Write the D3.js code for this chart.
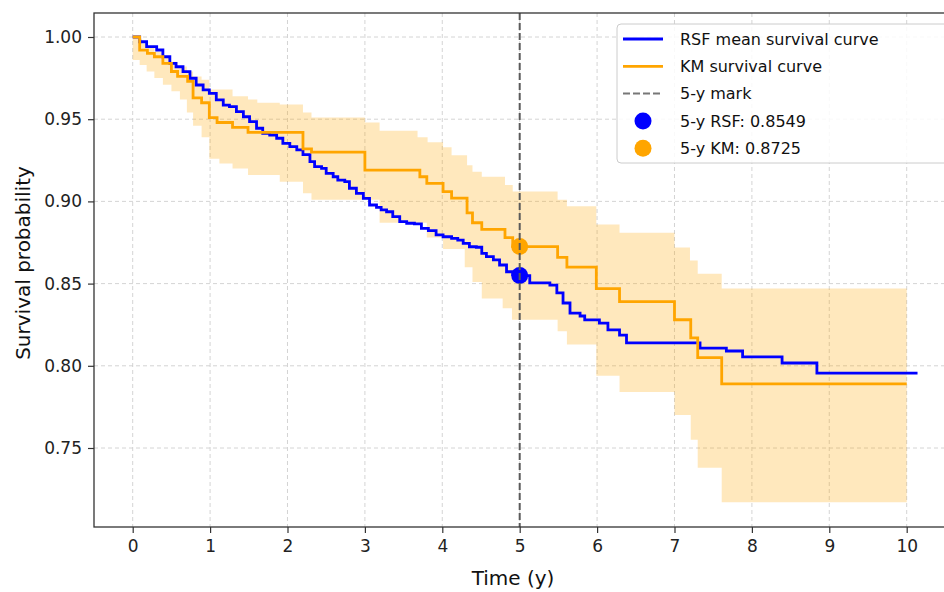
<!DOCTYPE html>
<html>
<head>
<meta charset="utf-8">
<script src="https://cdn.jsdelivr.net/npm/d3@7"></script>
<style>
  body { margin: 0; background: #fff; }
  svg { display: block; font-family: "DejaVu Sans", sans-serif; }
</style>
</head>
<body>
<svg width="944" height="592"></svg>
<script>
// RSF mean survival curve
var rsfTime = [0, 0.09, 0.18, 0.31, 0.39, 0.48, 0.56, 0.65, 0.74, 0.82, 0.91, 0.99, 1.08, 1.17, 1.25, 1.34, 1.43, 1.51, 1.60, 1.68,
  1.77, 1.86, 1.94, 2.03, 2.12, 2.20, 2.29, 2.35,
  2.44, 2.50, 2.59, 2.65, 2.74, 2.80, 2.89, 2.98, 3.06, 3.15, 3.21, 3.28, 3.36, 3.45, 3.54, 3.64, 3.73, 3.82, 3.92, 4.01,
  4.12, 4.20, 4.27, 4.35, 4.44, 4.51, 4.57, 4.66, 4.74, 4.83, 4.91, 5.00, 5.13, 5.39, 5.48, 5.56, 5.65, 5.78, 5.84, 6.03,
  6.14, 6.29, 6.38, 7.33, 7.67, 7.88, 8.39, 8.84, 10.14];
var rsfSurv = [1.000, 0.9971, 0.9941, 0.9921, 0.9880, 0.9840, 0.9819, 0.9789, 0.9749, 0.9708, 0.9678, 0.9657, 0.9617, 0.9586, 0.9576, 0.9546, 0.9515, 0.9485, 0.9445, 0.9414,
  0.9404, 0.9384, 0.9353, 0.9333, 0.9313, 0.9285, 0.9242, 0.9211,
  0.9201, 0.9171, 0.9150, 0.9130, 0.9120, 0.9080, 0.9049, 0.9019, 0.8978, 0.8964, 0.8948, 0.8937, 0.8907, 0.8877, 0.8867, 0.8863, 0.8836, 0.8822, 0.8796, 0.8785,
  0.8775, 0.8765, 0.8745, 0.8724, 0.8721, 0.8684, 0.8664, 0.8644, 0.8613, 0.8572, 0.8556, 0.8549, 0.8504, 0.8491, 0.8443, 0.8382, 0.8321, 0.8303, 0.8279, 0.8260,
  0.8218, 0.8187, 0.8139, 0.8108, 0.8090, 0.8054, 0.8017, 0.7956, 0.7956];

// Kaplan-Meier curve
var kmTime = [0, 0.09, 0.19, 0.28, 0.39, 0.50, 0.58, 0.71, 0.78, 0.89, 0.99, 1.09, 1.29, 1.49, 2.20, 2.31, 3.00, 3.71,
  3.80, 4.01, 4.12, 4.32, 4.39, 4.51, 4.81, 4.91, 5.49, 5.61, 5.99, 6.29, 7.00, 7.21, 7.30, 7.61, 10.0];
var kmSurv = [1.000, 0.992, 0.990, 0.988, 0.984, 0.979, 0.976, 0.973, 0.963, 0.960, 0.951, 0.948, 0.945, 0.942, 0.932, 0.930, 0.919, 0.915,
  0.911, 0.906, 0.902, 0.893, 0.887, 0.883, 0.878, 0.8725, 0.866, 0.860, 0.847, 0.839, 0.828, 0.817, 0.805, 0.789, 0.789];

// KM confidence band
var ciUpTime = [0, 0.12, 0.19, 0.28, 0.39, 0.48, 0.58, 0.70, 0.78, 0.89, 0.99, 1.29, 1.49, 1.61, 1.90, 2.20, 2.31, 3.00, 3.19,
  3.68, 3.81, 4.01, 4.12, 4.32, 4.39, 4.51, 4.81, 4.91, 5.49, 5.61, 5.99, 6.29, 7.00, 7.20, 7.30, 7.61, 10.0];
var ciUpper = [0.999, 0.996, 0.994, 0.991, 0.988, 0.985, 0.982, 0.979, 0.976, 0.974, 0.968, 0.964, 0.962, 0.960, 0.959, 0.954, 0.951, 0.948, 0.943,
  0.939, 0.936, 0.933, 0.928, 0.922, 0.918, 0.915, 0.910, 0.906, 0.901, 0.897, 0.886, 0.881, 0.872, 0.864, 0.856, 0.847, 0.847];
var ciLoTime = [0, 0.09, 0.18, 0.28, 0.39, 0.50, 0.61, 0.70, 0.78, 0.89, 0.99, 1.12, 1.29, 1.49, 1.90, 2.20, 2.31, 3.19,
  3.80, 4.01, 4.29, 4.39, 4.51, 4.78, 4.90, 5.49, 5.61, 5.99, 6.29, 7.00, 7.21, 7.30, 7.61, 10.0];
var ciLower = [0.986, 0.983, 0.979, 0.975, 0.971, 0.967, 0.962, 0.954, 0.946, 0.939, 0.926, 0.923, 0.920, 0.916, 0.912, 0.905, 0.901, 0.887,
  0.878, 0.871, 0.860, 0.851, 0.841, 0.835, 0.828, 0.821, 0.813, 0.794, 0.784, 0.770, 0.755, 0.738, 0.717, 0.717];

var markYear = 5;
var rsf5 = 0.8549, km5 = 0.8725;

var xTicks = [0, 1, 2, 3, 4, 5, 6, 7, 8, 9, 10];
var yTicks = [0.75, 0.80, 0.85, 0.90, 0.95, 1.00];

var legendItems = [
  { label: "RSF mean survival curve", type: "line", color: "#0000ff" },
  { label: "KM survival curve", type: "line", color: "#ffa500" },
  { label: "5-y mark", type: "dash", color: "#777" },
  { label: "5-y RSF: 0.8549", type: "dot", color: "#0000ff" },
  { label: "5-y KM: 0.8725", type: "dot", color: "#ffa500" }
];

var svg = d3.select("svg");

var x = d3.scaleLinear().domain([-0.5, 10.65]).range([94, 957]);
var y = d3.scaleLinear().domain([1 - 490 / 1644, 1 + 24 / 1644]).range([527, 13]);

// grid
svg.append("g").selectAll("line")
  .data(xTicks).enter().append("line")
  .attr("x1", function (d) { return x(d); }).attr("x2", function (d) { return x(d); })
  .attr("y1", 13).attr("y2", 527)
  .attr("stroke", "#cfcfcf").attr("stroke-width", 0.9).attr("stroke-dasharray", "4,3");
svg.append("g").selectAll("line")
  .data(yTicks).enter().append("line")
  .attr("x1", 94).attr("x2", 957)
  .attr("y1", function (d) { return y(d); }).attr("y2", function (d) { return y(d); })
  .attr("stroke", "#cfcfcf").attr("stroke-width", 0.9).attr("stroke-dasharray", "4,3");

function stepAt(times, vals, t) {
  var i = d3.bisectRight(times, t) - 1;
  return vals[Math.max(0, i)];
}

var bandTimes = Array.from(new Set(ciUpTime.concat(ciLoTime))).sort(d3.ascending);
var band = bandTimes.map(function (t) {
  return { t: t, lo: stepAt(ciLoTime, ciLower, t), hi: stepAt(ciUpTime, ciUpper, t) };
});

svg.append("path")
  .datum(band)
  .attr("fill", "#ffa500").attr("fill-opacity", 0.26)
  .attr("d", d3.area().curve(d3.curveStepAfter)
    .x(function (d) { return x(d.t); })
    .y0(function (d) { return y(d.lo); })
    .y1(function (d) { return y(d.hi); }));

// 5-year markers (under the lines, like matplotlib zorder)
svg.append("circle").attr("cx", x(markYear)).attr("cy", y(rsf5)).attr("r", 8.5).attr("fill", "#0000ff");
svg.append("circle").attr("cx", x(markYear)).attr("cy", y(km5)).attr("r", 8.5).attr("fill", "#ffa500");

var stepLine = d3.line().curve(d3.curveStepAfter)
  .x(function (d) { return x(d[0]); })
  .y(function (d) { return y(d[1]); });

svg.append("path")
  .datum(d3.zip(rsfTime, rsfSurv))
  .attr("fill", "none").attr("stroke", "#0000ff").attr("stroke-width", 2.8)
  .attr("d", stepLine);

svg.append("path")
  .datum(d3.zip(kmTime, kmSurv))
  .attr("fill", "none").attr("stroke", "#ffa500").attr("stroke-width", 2.8)
  .attr("d", stepLine);

svg.append("line")
  .attr("x1", x(markYear)).attr("x2", x(markYear)).attr("y1", 13).attr("y2", 527)
  .attr("stroke", "#5a5a5a").attr("stroke-width", 2).attr("stroke-dasharray", "7,3");

// axes
var xAxis = svg.append("g").attr("transform", "translate(0,527)")
  .call(d3.axisBottom(x).tickValues(xTicks).tickFormat(d3.format("d")).tickSize(6).tickPadding(7).tickSizeOuter(0));
var yAxis = svg.append("g").attr("transform", "translate(94,0)")
  .call(d3.axisLeft(y).tickValues(yTicks).tickFormat(d3.format(".2f")).tickSize(6).tickPadding(6).tickSizeOuter(0));

[xAxis, yAxis].forEach(function (a) {
  a.select(".domain").remove();
  a.selectAll(".tick line").attr("stroke", "#333").attr("stroke-width", 1.2);
  a.selectAll(".tick text").attr("fill", "#222").style("font-size", "17px").style("font-family", "DejaVu Sans");
});

// frame
svg.append("rect")
  .attr("x", 94).attr("y", 13).attr("width", 957 - 94).attr("height", 527 - 13)
  .attr("fill", "none").attr("stroke", "#333").attr("stroke-width", 1.3);

svg.append("text")
  .attr("x", 513).attr("y", 585)
  .attr("text-anchor", "middle")
  .style("font-size", "20px").attr("fill", "#111")
  .text("Time (y)");

svg.append("text")
  .attr("transform", "translate(30,263) rotate(-90)")
  .attr("text-anchor", "middle")
  .style("font-size", "20px").attr("fill", "#111")
  .text("Survival probability");

// legend
var legend = svg.append("g").attr("transform", "translate(617,24)");
legend.append("rect")
  .attr("width", 360).attr("height", 139).attr("rx", 4)
  .attr("fill", "#fff").attr("fill-opacity", 0.85)
  .attr("stroke", "#cccccc").attr("stroke-width", 1);

var row = legend.selectAll("g.item")
  .data(legendItems).enter().append("g")
  .attr("class", "item")
  .attr("transform", function (d, i) { return "translate(0," + (15 + i * 27.3) + ")"; });

row.filter(function (d) { return d.type !== "dot"; })
  .append("line")
  .attr("x1", 6).attr("x2", 46).attr("y1", 0).attr("y2", 0)
  .attr("stroke", function (d) { return d.color; })
  .attr("stroke-width", function (d) { return d.type === "dash" ? 2 : 2.8; })
  .attr("stroke-dasharray", function (d) { return d.type === "dash" ? "7,3" : null; });

row.filter(function (d) { return d.type === "dot"; })
  .append("circle")
  .attr("cx", 26).attr("cy", 0).attr("r", 8.5)
  .attr("fill", function (d) { return d.color; });

row.append("text")
  .attr("x", 63).attr("y", 0).attr("dy", "0.36em")
  .style("font-size", "16px").attr("fill", "#111")
  .text(function (d) { return d.label; });
</script>
</body>
</html>
